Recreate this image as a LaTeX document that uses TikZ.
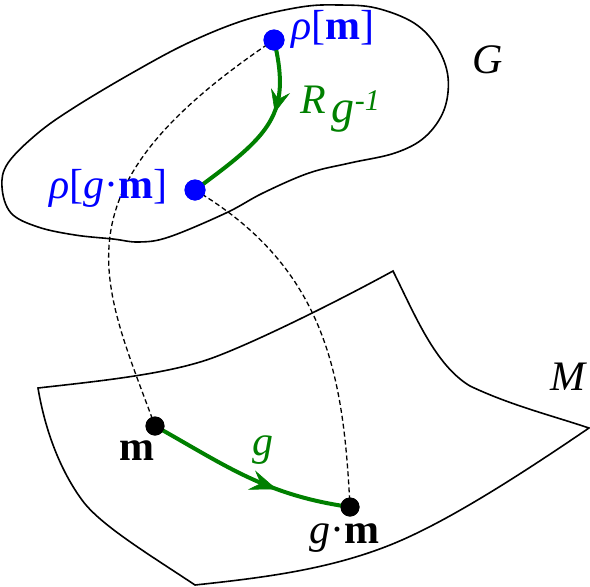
\documentclass[tikz,border=0pt]{standalone}
\usepackage{fontspec}
\setmainfont{Liberation Serif}
\definecolor{myblue}{RGB}{0,0,255}
\definecolor{mygreen}{RGB}{0,128,0}
\tikzset{
  outline/.style={line width=1.6pt, black},
  conn/.style={line width=1.3pt, black, dash pattern=on 5pt off 3pt},
  garrow/.style={line width=4pt, mygreen},
  ghead/.style={fill=mygreen, draw=mygreen, line width=0.6pt, line join=miter},
  bdot/.style={circle, fill=myblue, inner sep=0pt, minimum size=21pt},
  kdot/.style={circle, fill=black, inner sep=0pt, minimum size=19pt},
  lbl/.style={inner sep=0pt, font=\fontsize{42}{50}\selectfont},
}
\begin{document}
\begin{tikzpicture}[x=1pt,y=-1pt]
\useasboundingbox (0,0) rectangle (590,587);
% group G blob
\draw[outline] plot[smooth cycle, tension=0.6] coordinates {
 (2,187) (11,213) (38,227) (75,235) (113,239) (139,242) (169,237) (226,213)
 (263,193) (309,173) (350,163) (395,153) (425,137) (444,110) (448,77)
 (437,47) (414,23) (376,8) (339,5) (301,7) (245,20) (188,43) (132,73)
 (75,107) (38,133) (8,163)};
% manifold M
\draw[outline] (38,388) .. controls (100,381) and (170,374) .. (215,357)
  .. controls (260,340) and (340,300) .. (393,271)
  .. controls (415,315) and (435,365) .. (470,386)
  .. controls (510,405) and (550,415) .. (589,428)
  .. controls (520,475) and (450,520) .. (395,543)
  .. controls (330,570) and (260,578) .. (195,585)
  .. controls (150,555) and (100,525) .. (82,500)
  .. controls (60,470) and (45,430) .. (38,388) -- cycle;
% points
\node[bdot] (rm) at (274,40) {};
\node[bdot] (rgm) at (195,190) {};
\node[kdot] (m) at (155,426) {};
\node[kdot] (gm) at (350,507) {};
% dashed fibres
\draw[conn] (rm.center) .. controls (50,190) and (101,279) .. (m.center);
\draw[conn] (rgm.center) .. controls (328,269) and (343.6,379) .. (gm.center);
% green arrows
\draw[garrow] (rm.center) .. controls (292,115) and (270,135) .. (rgm.center);
\draw[garrow] (m.center) .. controls (225,465) and (265,495) .. (gm.center);
% arrowheads
\coordinate (tipR) at (275,112);
\coordinate (tipg) at (276,489);
\filldraw[ghead] (tipR) -- (271.5,89.4) -- (278.3,99.4) -- (289,93.9) -- cycle;
\filldraw[ghead] (tipg) -- (255.8,471.5) -- (261,483.5) -- (249.2,489.3) -- cycle;
% redraw dots on top
\node[bdot] at (rm) {};
\node[bdot] at (rgm) {};
\node[kdot] at (m) {};
\node[kdot] at (gm) {};
% labels
\node[lbl, text=myblue, anchor=base west] (lrm) at (291,39) {\textit{ρ}[\textbf{m}]};
\node[lbl, text=myblue, anchor=base east] (lrgm) at (168,198) {\textit{ρ}[\textit{g}·\textbf{m}]};
\node[lbl, anchor=base] (lm) at (137,460) {\textbf{m}};
\node[lbl, anchor=base] (lgm) at (344,543) {\textit{g}·\textbf{m}};
\node[lbl, text=mygreen, anchor=base] (lg) at (263,455) {\textit{g}};
\node[lbl, text=mygreen, anchor=base west] (lR) at (300,113) {\textit{R}\hspace{6pt}\raisebox{-9pt}{\fontsize{46}{50}\selectfont\textit{g}}\raisebox{3pt}{\fontsize{30}{30}\selectfont\textit{-1}}};
\node[lbl, anchor=base] (lG) at (488,73) {\textit{G}};
\node[lbl, anchor=base] (lM) at (569,390) {\textit{M}};
\end{tikzpicture}
\end{document}
